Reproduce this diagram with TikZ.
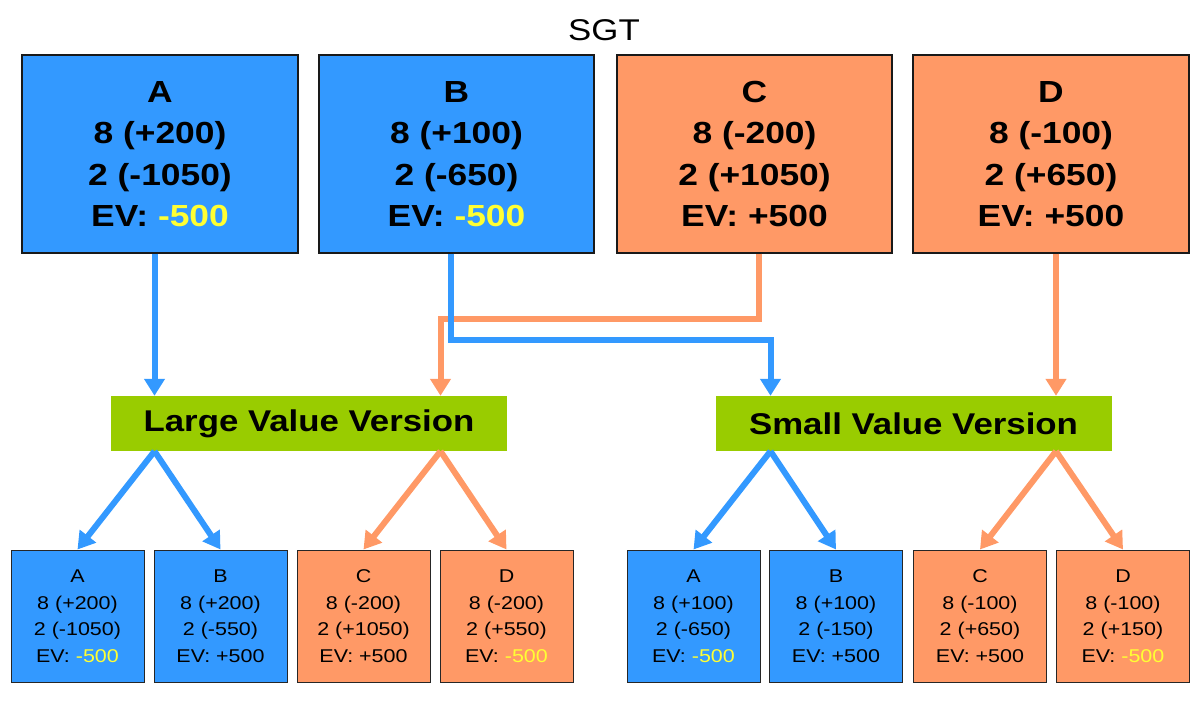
\documentclass[tikz,border=0pt]{standalone}
\usepackage{fontspec}
\setmainfont{Liberation Sans}[FakeStretch=1.16]
\usetikzlibrary{arrows.meta,calc}
\definecolor{bbox}{RGB}{51,153,255}
\definecolor{obox}{RGB}{255,153,102}
\definecolor{gbox}{RGB}{153,204,0}
\definecolor{yel}{RGB}{255,255,51}
\tikzset{
  bigbox/.style={draw=black!90,line width=1.2pt,minimum width=276pt,minimum height=198pt,inner sep=0pt,align=center,font=\fontsize{30.5}{41.5}\selectfont\bfseries},
  smallbox/.style={draw=black!85,line width=1pt,minimum width=133pt,minimum height=132pt,inner sep=0pt,align=center,font=\fontsize{18.5}{26.5}\selectfont},
  verbox/.style={fill=gbox,minimum width=396pt,minimum height=55pt,inner sep=0pt,font=\fontsize{30}{36}\selectfont\bfseries},
  conn/.style={line width=6pt,-{Triangle[width=20pt,length=17pt]}},
  bconn/.style={conn,draw=bbox},
  oconn/.style={conn,draw=obox},
}
\newcommand{\yv}[1]{\textcolor{yel}{#1}}
\begin{document}
\begin{tikzpicture}[x=1pt,y=-1pt]
\useasboundingbox (0,0) rectangle (1200,704);
\node[font=\fontsize{30}{36}\selectfont] (title) at (604,30) {SGT};
% top boxes
\node[bigbox,fill=bbox] (A) at (160,154) {A\\8 (+200)\\2 (-1050)\\EV: \yv{-500}};
\node[bigbox,fill=bbox,minimum width=275pt] (B) at (456.5,154) {B\\8 (+100)\\2 (-650)\\EV: \yv{-500}};
\node[bigbox,fill=obox,minimum width=275pt] (C) at (754.5,154) {C\\8 (-200)\\2 (+1050)\\EV: +500};
\node[bigbox,fill=obox] (D) at (1051,154) {D\\8 (-100)\\2 (+650)\\EV: +500};
% version boxes
\node[verbox] (L) at (309,423.5) {Large Value Version};
\node[verbox] (S) at (913.5,423.5) {Small Value Version};
% small boxes left
\node[smallbox,fill=bbox] (LA) at (77.5,616) {A\\8 (+200)\\2 (-1050)\\EV: \yv{-500}};
\node[smallbox,fill=bbox] (LB) at (220.5,616) {B\\8 (+200)\\2 (-550)\\EV: +500};
\node[smallbox,fill=obox] (LC) at (363.5,616) {C\\8 (-200)\\2 (+1050)\\EV: +500};
\node[smallbox,fill=obox] (LD) at (506.5,616) {D\\8 (-200)\\2 (+550)\\EV: \yv{-500}};
% small boxes right
\node[smallbox,fill=bbox] (SA) at (693.5,616) {A\\8 (+100)\\2 (-650)\\EV: \yv{-500}};
\node[smallbox,fill=bbox] (SB) at (836,616) {B\\8 (+100)\\2 (-150)\\EV: +500};
\node[smallbox,fill=obox] (SC) at (980,616) {C\\8 (-100)\\2 (+650)\\EV: +500};
\node[smallbox,fill=obox] (SD) at (1123,616) {D\\8 (-100)\\2 (+150)\\EV: \yv{-500}};
% connector end points
\coordinate (Aout) at ([xshift=-5.5pt]A.south);
\coordinate (Bout) at ([xshift=-5.5pt]B.south);
\coordinate (Cout) at ([xshift=4.5pt]C.south);
\coordinate (Dout) at ([xshift=5pt]D.south);
\coordinate (Lin1) at (Aout |- L.north);
\coordinate (Lin2) at ([xshift=131.5pt]L.north);
\coordinate (Sin1) at ([xshift=-143pt]S.north);
\coordinate (Sin2) at (Dout |- S.north);
\coordinate (Lout1) at (Lin1 |- L.south);
\coordinate (Lout2) at (Lin2 |- L.south);
\coordinate (Sout1) at (Sin1 |- S.south);
\coordinate (Sout2) at (Sin2 |- S.south);
% top connectors
\draw[oconn] (Cout) |- ($(Lin2)+(0,-77)$) -- (Lin2);
\draw[bconn] (Aout) -- (Lin1);
\draw[bconn] (Bout) |- ($(Sin1)+(0,-56)$) -- (Sin1);
\draw[oconn] (Dout) -- (Sin2);
% bottom connectors
\draw[bconn] (Lout1) -- (LA.north);
\draw[bconn] (Lout1) -- (LB.north);
\draw[oconn] (Lout2) -- (LC.north);
\draw[oconn] (Lout2) -- (LD.north);
\draw[bconn] (Sout1) -- (SA.north);
\draw[bconn] (Sout1) -- (SB.north);
\draw[oconn] (Sout2) -- (SC.north);
\draw[oconn] (Sout2) -- (SD.north);
\end{tikzpicture}
\end{document}
